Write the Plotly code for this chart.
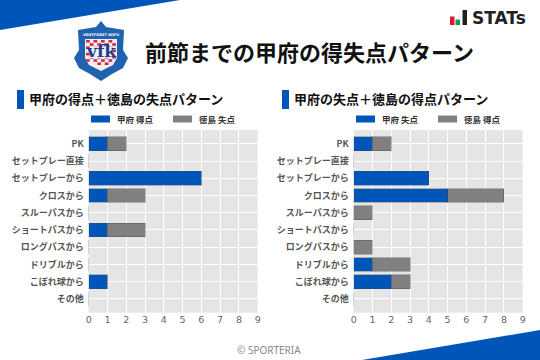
import plotly.graph_objects as go

categories = ["PK", "セットプレー直接", "セットプレーから", "クロスから", "スルーパスから",
              "ショートパスから", "ロングパスから", "ドリブルから", "こぼれ球から", "その他"]
left_blue = [1, 0, 6, 1, 0, 1, 0, 0, 1, 0]
left_gray = [1, 0, 0, 2, 0, 2, 0, 0, 0, 0]
right_blue = [1, 0, 4, 5, 0, 0, 0, 1, 2, 0]
right_gray = [1, 0, 0, 3, 1, 0, 1, 2, 1, 0]
x_ticks = list(range(10))

W, H = 540, 360
BLUE = "#0055b8"
GRAY = "#808080"
FONT = "Noto Sans CJK JP"

def px(x): return x / W
def py(y): return 1 - y / H

fig = go.Figure()
for axis, blue, gray, bname, gname in [
    ("", left_blue, left_gray, "甲府 得点", "徳島 失点"),
    ("2", right_blue, right_gray, "甲府 失点", "徳島 得点"),
]:
    for vals, col, name in [(blue, BLUE, bname), (gray, GRAY, gname)]:
        fig.add_trace(go.Bar(y=categories, x=vals, orientation="h", name=name,
                             xaxis="x" + axis, yaxis="y" + axis,
                             marker=dict(color=col, line=dict(color="rgba(70,70,70,0.35)", width=1)),
                             showlegend=False, width=0.8))

def axes(x0, x1):
    xa = dict(domain=[px(x0), px(x1)], range=[0, 9], tickvals=x_ticks, showgrid=True,
              gridcolor="#ffffff", gridwidth=1.2, zeroline=False, ticks="",
              tickfont=dict(size=9.5, color="#666666", family="DejaVu Sans"), ticklen=0)
    ya = dict(domain=[py(312.7), py(130)], range=[9.8, -0.8], categoryorder="array",
              categoryarray=categories, showgrid=True, gridcolor="#ffffff", gridwidth=1.2,
              ticks="", ticklabelstandoff=4,
              tickfont=dict(size=9, color="#555555", family=FONT, weight="bold"))
    return xa, ya

xa, ya = axes(88.7, 257.7)
xa2, ya2 = axes(353.7, 522.7)
xa2["anchor"] = "y2"
ya2["anchor"] = "x2"

def poly(points, color, layer="above", line=None):
    d = "M" + " L".join(f"{px(x):.5f},{py(y):.5f}" for x, y in points) + " Z"
    return dict(type="path", xref="paper", yref="paper", path=d, fillcolor=color,
                line=line or dict(width=0), layer=layer)

def rect(x0, y0, x1, y1, color):
    return dict(type="rect", xref="paper", yref="paper", x0=px(x0), x1=px(x1),
                y0=py(y0), y1=py(y1), fillcolor=color, line=dict(width=0))

shapes = [
    poly([(0, 0), (180, 0), (0, 30)], BLUE),
    poly([(540, 330), (540, 360), (362, 360)], BLUE),
    rect(17, 90, 24, 109, BLUE),
    rect(282, 90, 289, 109, BLUE),
    rect(91, 115.5, 110, 122.5, BLUE),
    rect(173, 115.5, 192, 122.5, GRAY),
    rect(356, 115.5, 375, 122.5, BLUE),
    rect(438, 115.5, 457, 122.5, GRAY),
    # STATs mark
    rect(450, 16.5, 454.5, 25, "#e0182d"),
    rect(455.5, 19.5, 460, 25, "#1a9b50"),
    rect(462.5, 10, 467, 25, "#222222"),
    # crest
    poly([(101, 21), (106, 27), (124, 30), (123, 50), (128, 58), (123, 68), (112, 74), (101, 81),
          (90, 74), (79, 68), (74, 58), (79, 50), (78, 30), (96, 27)], "#1f62b0"),
    poly([(85, 39), (117, 39), (117, 58), (113, 65), (101, 71), (89, 65), (85, 58)], "#f4eef0"),
]
# crest check pattern
for row in range(8):
    for col in range(8):
        if (row + col) % 2 == 0:
            cx = 86 + col * 3.75
            cy = 40 + row * 3.2
            if cy + 3 < 63 or 93 < cx < 108:
                shapes.append(rect(cx, cy, cx + 3.75, cy + 2.6, "#cf2a47"))
shapes.append(rect(90, 46.5, 112, 58, "#f4eef0"))

def text(x, y, s, size, color="#111111", anchor="left", family=FONT, weight="normal"):
    return dict(xref="paper", yref="paper", x=px(x), y=py(y), text=s, showarrow=False,
                xanchor=anchor, yanchor="middle", align=anchor, borderpad=0,
                font=dict(size=size, color=color, family=family, weight=weight))

annotations = [
    text(144, 51.5, "前節までの甲府の得失点パターン", 22, weight="bold"),
    text(27.5, 98.5, "甲府の得点＋徳島の失点パターン", 13, weight="bold"),
    text(292.5, 98.5, "甲府の失点＋徳島の得点パターン", 13, weight="bold"),
    text(116, 119, "甲府 得点", 8.5, "#333333", weight="bold"),
    text(198, 119, "徳島 失点", 8.5, "#333333", weight="bold"),
    text(381, 119, "甲府 失点", 8.5, "#333333", weight="bold"),
    text(463, 119, "徳島 得点", 8.5, "#333333", weight="bold"),
    text(471, 18, "STATs", 17, "#222222", family="DejaVu Sans", weight="bold"),
    text(269, 350, "© SPORTERIA", 10, "#888888", anchor="center", family="Noto Sans"),
    text(101, 35, "VENTFORET KOFU", 3.6, "#ffffff", anchor="center", family="DejaVu Sans", weight="bold"),
    text(101, 51, "vfk", 17, "#17408b", anchor="center", family="DejaVu Serif", weight="bold"),
]

fig.update_layout(
    width=W, height=H, margin=dict(l=0, r=0, t=0, b=0, autoexpand=False), autosize=False,
    barmode="stack", paper_bgcolor="#ffffff", plot_bgcolor="#e5e5e5", showlegend=False,
    xaxis=xa, yaxis=ya, xaxis2=xa2, yaxis2=ya2, shapes=shapes, annotations=annotations,
    font=dict(family=FONT),
)
fig.write_html("out.html", config=dict(displayModeBar=False),
               post_script="document.body.style.margin='0';document.body.style.overflow='hidden';")
